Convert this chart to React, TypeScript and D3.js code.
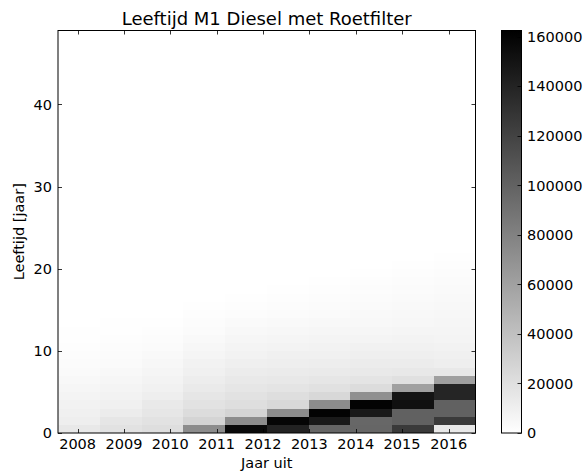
import React, { useEffect, useRef } from 'react';
import * as d3 from 'd3';

// x tick labels (jaar uit) and where matplotlib put them, in column units
const years = ['2008', '2009', '2010', '2011', '2012', '2013', '2014', '2015', '2016'];
const xTickPos = [0.47, 1.58, 2.69, 3.8, 4.91, 6.02, 7.13, 8.24, 9.36];
const yTicks = [0, 10, 20, 30, 40];
const cbTicks = [0, 20000, 40000, 60000, 80000, 100000, 120000, 140000, 160000];

// counts per leeftijd (age 0 upward), one array per column
const col0 = [14650, 10800, 9560, 8280, 7000, 5700, 4460, 3190, 2550, 1900, 1270, 640, 400, 200];
const col1 = [18500, 15900, 12100, 9560, 8280, 7000, 5700, 4460, 3190, 2550, 1900, 1270, 640, 400, 200];
const col2 = [21000, 18500, 15900, 14000, 10800, 8900, 7650, 6370, 5100, 3800, 2550, 1900, 1270, 640, 300];
const col3 = [73000, 27400, 22300, 18500, 15900, 13400, 11500, 9560, 8280, 6370, 5100, 3800, 2550, 1900, 1270, 640, 300];
const col4 = [157000, 73000, 27400, 21000, 18500, 15900, 14000, 12100, 10200, 8280, 7000, 5700, 4460, 3190, 1900, 1270, 640, 300];
const col5 = [141000, 159000, 73000, 24800, 21000, 17200, 14650, 12700, 10800, 9560, 7650, 6370, 5100, 3800, 2550, 1900, 1270, 640, 300];
const col6 = [97500, 146000, 160500, 73000, 24800, 19100, 15900, 13400, 11500, 9560, 8280, 7000, 5700, 4460, 3190, 2550, 1900, 1270, 640, 300];
const col7 = [97500, 97000, 146000, 160500, 70700, 22300, 17200, 14000, 12100, 10200, 8900, 7000, 5700, 4460, 3800, 3190, 2550, 1900, 1270, 640, 300];
const col8 = [125500, 101000, 101000, 152000, 150000, 60500, 19700, 14650, 12100, 10200, 8900, 7650, 6370, 5100, 4460, 3800, 3190, 2550, 1900, 1270, 640, 300];
const col9 = [14650, 125500, 101000, 101000, 139000, 139000, 60500, 14650, 10800, 9560, 8280, 7000, 6370, 5700, 5100, 4460, 3800, 3190, 2550, 1900, 1270, 640, 300];

const columns = [col0, col1, col2, col3, col4, col5, col6, col7, col8, col9];
const vmax = 162500;
const maxAge = 49;

const W = 584, H = 474;
const font = '"DejaVu Sans", sans-serif';
const fs = 14.5;

const App: React.FC = () => {
  const svgRef = useRef<SVGSVGElement>(null);

  useEffect(() => {
    if (!svgRef.current) return;
    const svg = d3.select(svgRef.current);
    svg.selectAll('*').remove();

    const left = 58, right = 475.5, top = 30.5, bottom = 433;

    const x = d3.scaleLinear().domain([0, columns.length]).range([left, right]);
    const y = d3.scaleLinear().domain([0, maxAge]).range([bottom, top]);
    const color = d3.scaleLinear<string>().domain([0, vmax]).range(['#ffffff', '#000000']).clamp(true);

    svg.append('rect').attr('width', W).attr('height', H).attr('fill', '#fff');

    // cells
    const cells = columns.flatMap((col, i) => col.map((v, age) => ({ i, age, v })));
    svg.append('g')
      .selectAll('rect')
      .data(cells)
      .join('rect')
      .attr('x', d => x(d.i))
      .attr('width', d => x(d.i + 1) - x(d.i) + 0.3)
      .attr('y', d => y(d.age + 1))
      .attr('height', d => y(d.age) - y(d.age + 1) + 0.3)
      .attr('fill', d => color(d.v))
      .attr('shape-rendering', 'crispEdges');

    // frame
    svg.append('rect')
      .attr('x', left).attr('y', top)
      .attr('width', right - left).attr('height', bottom - top)
      .attr('fill', 'none').attr('stroke', '#000').attr('stroke-width', 1);

    const tickLen = 4;
    const ticks = svg.append('g').attr('stroke', '#000').attr('stroke-width', 0.8);
    xTickPos.forEach(p => {
      const px = Math.round(x(p)) + 0.5;
      ticks.append('line').attr('x1', px).attr('x2', px).attr('y1', bottom).attr('y2', bottom - tickLen);
      ticks.append('line').attr('x1', px).attr('x2', px).attr('y1', top).attr('y2', top + tickLen);
    });
    yTicks.forEach(t => {
      const py = Math.round(y(t)) + 0.5;
      ticks.append('line').attr('x1', left).attr('x2', left + tickLen).attr('y1', py).attr('y2', py);
      ticks.append('line').attr('x1', right).attr('x2', right - tickLen).attr('y1', py).attr('y2', py);
    });

    // tick labels
    svg.append('g').selectAll('text').data(years).join('text')
      .attr('x', (_, i) => x(xTickPos[i]))
      .attr('y', 449)
      .attr('text-anchor', 'middle')
      .attr('font-family', font).attr('font-size', fs).attr('fill', '#000')
      .text(d => d);

    svg.append('g').selectAll('text').data(yTicks).join('text')
      .attr('x', 52)
      .attr('y', d => y(d))
      .attr('dy', '0.36em')
      .attr('text-anchor', 'end')
      .attr('font-family', font).attr('font-size', fs).attr('fill', '#000')
      .text(d => d);

    // titles
    svg.append('text')
      .attr('x', (left + right) / 2).attr('y', 25)
      .attr('text-anchor', 'middle')
      .attr('font-family', font).attr('font-size', 18).attr('fill', '#000')
      .text('Leeftijd M1 Diesel met Roetfilter');

    svg.append('text')
      .attr('x', (left + right) / 2).attr('y', 468)
      .attr('text-anchor', 'middle')
      .attr('font-family', font).attr('font-size', fs).attr('fill', '#000')
      .text('Jaar uit');

    svg.append('text')
      .attr('transform', `translate(24,${(top + bottom) / 2}) rotate(-90)`)
      .attr('text-anchor', 'middle')
      .attr('font-family', font).attr('font-size', fs).attr('fill', '#000')
      .text('Leeftijd [jaar]');

    // colorbar
    const cbL = 501.5, cbR = 521.5;
    const cb = d3.scaleLinear().domain([0, vmax]).range([bottom, top]);
    const defs = svg.append('defs');
    const grad = defs.append('linearGradient').attr('id', 'cbgrad')
      .attr('x1', 0).attr('y1', 1).attr('x2', 0).attr('y2', 0);
    grad.append('stop').attr('offset', '0%').attr('stop-color', color(0));
    grad.append('stop').attr('offset', '100%').attr('stop-color', color(vmax));
    svg.append('rect')
      .attr('x', cbL).attr('y', top).attr('width', cbR - cbL).attr('height', bottom - top)
      .attr('fill', 'url(#cbgrad)').attr('stroke', '#000').attr('stroke-width', 1);

    const cbG = svg.append('g');
    cbTicks.forEach(t => {
      const py = Math.round(cb(t)) + 0.5;
      cbG.append('line').attr('x1', cbR).attr('x2', cbR - tickLen).attr('y1', py).attr('y2', py)
        .attr('stroke', '#000').attr('stroke-width', 0.8);
      cbG.append('text')
        .attr('x', 527).attr('y', cb(t)).attr('dy', '0.36em')
        .attr('font-family', font).attr('font-size', fs).attr('fill', '#000')
        .text(t);
    });
  }, []);

  return (
    <svg ref={svgRef} width={W} height={H}
      style={{ position: 'absolute', left: 0, top: 0, display: 'block' }} />
  );
};

export default App;
